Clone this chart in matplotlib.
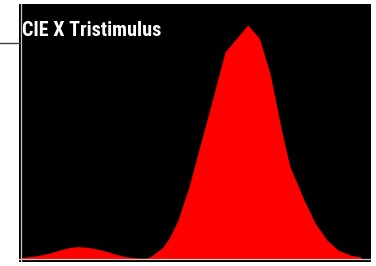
import numpy as np
import matplotlib
matplotlib.use("Agg")
import matplotlib.pyplot as plt
from matplotlib.lines import Line2D

# wavelength (nm) and relative X tristimulus value
wavelength = [380.0, 396.5, 411.8, 425.9, 437.6, 445.9, 455.3, 467.1, 478.8, 490.6,
              502.4, 514.1, 525.9, 531.8, 537.6, 547.1, 555.3, 564.7, 577.6, 588.2,
              598.8, 620.0, 646.7, 660.4, 672.9, 680.0, 687.1, 696.5, 708.2, 712.9,
              718.8, 725.9, 740.0, 752.9, 767.1, 780.0]
x_value = [0.0064, 0.0128, 0.0235, 0.0385, 0.0491, 0.0526, 0.0513, 0.0449, 0.0342, 0.0214,
           0.0107, 0.0051, 0.0034, 0.0094, 0.0244, 0.0513, 0.0953, 0.1667, 0.3077, 0.4530,
           0.5940, 0.8846, 1.0000, 0.9432, 0.7936, 0.6667, 0.5385, 0.3932, 0.2949, 0.2521,
           0.2094, 0.1538, 0.0812, 0.0385, 0.0171, 0.0085]
title = "CIE X Tristimulus"

fig = plt.figure(figsize=(3.76, 2.66), dpi=100)
fig.patch.set_facecolor("white")

# black plot panel
ax = fig.add_axes([19 / 376, 4 / 266, 352 / 376, 258 / 266])
ax.set_facecolor("black")
for s in ax.spines.values():
    s.set_visible(False)
ax.set_xticks([])
ax.set_yticks([])

ax.fill_between(wavelength, 0, x_value, color="#ff0000", lw=0, zorder=2)
ax.axvline(380, color="#c8c8c8", lw=0.9, zorder=3)
ax.axhline(0, color="#c8c8c8", lw=0.9, zorder=3)

ax.set_xlim(380 - 2 / 0.85, 780 + 10 / 0.85)
ax.set_ylim(-3 / 234, 255 / 234)

# little tick stub on the left of the panel
fig.add_artist(Line2D([0, 20 / 376], [1 - 42.7 / 266] * 2, color="#404040", lw=1.0))

fig.text(22.5 / 376, 1 - 21.5 / 266, title, color="white", fontsize=14.5, fontweight="bold",
         family=["Roboto Condensed", "DejaVu Sans"], va="top", ha="left")

fig.savefig("out.png", dpi=100, facecolor="white")
